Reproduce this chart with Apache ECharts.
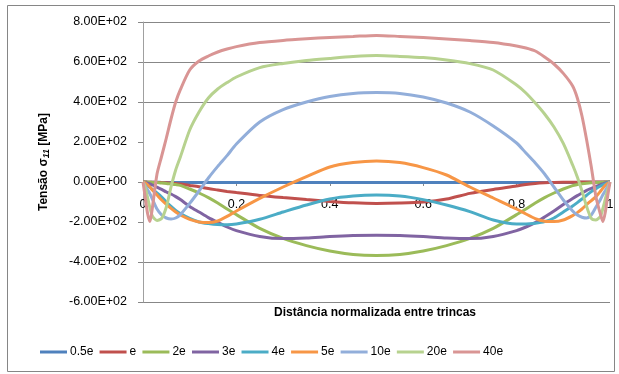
<!DOCTYPE html>
<html>
<head>
<meta charset="utf-8">
<script src="https://cdn.jsdelivr.net/npm/echarts@6/dist/echarts.min.js"></script>
<style>html,body{margin:0;padding:0;background:#fff;}#c{width:619px;height:374px;}</style>
</head>
<body>
<div id="c"></div>
<script>
const xs = [0,0.005,0.01,0.015,0.02,0.03,0.04,0.05,0.06,0.07,0.08,0.1,0.12,0.14,0.16,0.18,0.2,0.25,0.3,0.35,0.4,0.45,0.5,
            0.55,0.6,0.65,0.7,0.75,0.8,0.82,0.84,0.86,0.88,0.9,0.92,0.93,0.94,0.95,0.96,0.97,0.98,0.985,0.99,0.995,1];
const seriesNames = ['0.5e','e','2e','3e','4e','5e','10e','20e','40e'];
const s05e = [0,0,-1,-1,-1,-1,-2,-2,-2,-2,-2,-2,-2,-2,-2,-2,-2,-2,-2,-2,-2,-2,-2,
              -2,-2,-2,-2,-2,-2,-2,-2,-2,-2,-2,-2,-2,-1,-1,-1,-1,-1,-1,0,0,0];
const s1e = [0,0,-1,-1,-1,-2,-3,-4,-6,-8,-10,-17,-24,-33,-40,-47,-53,-67,-78,-88,-97,-104,-107,
             -105,-100,-85,-57,-37,-20,-12,-7,-4,-2,-1,-1,-1,0,0,0,0,0,0,0,0,0];
const s2e = [0,0,-1,-1,-2,-3,-5,-7,-10,-13,-17,-35,-55,-78,-105,-135,-163,-232,-282,-318,-345,-362,-367,
             -362,-345,-318,-282,-232,-163,-135,-105,-78,-55,-35,-18,-13,-9,-6,-4,-3,-2,-1,-1,0,0];
const s3e = [0,-2,-6,-10,-15,-26,-37,-50,-60,-73,-88,-122,-150,-178,-202,-225,-243,-272,-283,-280,-273,-268,-266,
             -268,-273,-280,-283,-272,-243,-225,-203,-175,-145,-112,-82,-68,-55,-42,-32,-22,-13,-9,-5,-2,0];
const s4e = [0,-8,-18,-27,-37,-55,-75,-100,-122,-142,-158,-182,-200,-208,-213,-214,-210,-186,-150,-115,-85,-70,-65,
             -70,-88,-115,-148,-190,-210,-210,-206,-198,-180,-150,-120,-103,-85,-66,-48,-33,-20,-14,-9,-4,0];
const s5e = [0,-5,-15,-25,-40,-65,-90,-112,-132,-150,-165,-187,-200,-203,-195,-172,-145,-82,-25,27,75,97,105,
             97,72,35,-25,-80,-135,-160,-183,-196,-198,-190,-168,-153,-135,-113,-93,-73,-45,-30,-17,-7,0];
const s10e = [0,-20,-40,-60,-85,-135,-165,-180,-185,-180,-163,-107,-45,20,78,132,190,300,362,400,428,443,447,
              443,425,395,350,280,195,145,95,40,-25,-90,-145,-165,-176,-180,-165,-125,-85,-63,-43,-22,0];
const s20e = [0,-30,-80,-130,-170,-192,-182,-125,-25,60,125,260,350,420,465,497,525,572,593,608,618,627,632,
              628,622,610,592,560,485,445,395,340,275,193,85,25,-45,-123,-182,-190,-170,-130,-85,-40,0];
const s40e = [0,-80,-160,-198,-130,40,130,220,315,400,462,560,605,630,650,665,677,697,708,716,723,728,733,
              728,722,715,707,697,680,670,655,625,590,543,480,420,330,210,75,-75,-165,-198,-150,-70,0];
const xTicks = [0,0.2,0.4,0.6,0.8,1];
const yTicks = [-600,-400,-200,0,200,400,600,800];

const allValues = [s05e,s1e,s2e,s3e,s4e,s5e,s10e,s20e,s40e];
const colors = ['#4F81BD','#C0504D','#9BBB59','#8064A2','#4BACC6','#F79646','#92AEDA','#B7D28F','#D99594'];
const FONT = 'Liberation Sans, Arial, sans-serif';

function fmt(v){
  if (v === 0) return '0.00E+00';
  const e = Math.floor(Math.log10(Math.abs(v)) + 1e-9);
  const m = v / Math.pow(10, e);
  return m.toFixed(2) + 'E' + (e < 0 ? '-' : '+') + String(Math.abs(e)).padStart(2, '0');
}

const chart = echarts.init(document.getElementById('c'), null, {renderer:'canvas'});
const series = seriesNames.map((n, i) => ({
  name: n,
  type: 'line',
  data: xs.map((x, j) => [x, allValues[i][j]]),
  showSymbol: false,
  symbol: 'none',
  smooth: 0.25,
  lineStyle: {width: 3, color: colors[i]},
  itemStyle: {color: colors[i]},
  z: 2 + i
}));
const gridColors = yTicks.map(v => (v === 200 || v === -200 || v === 0) ? 'rgba(0,0,0,0)' : '#878787');

chart.setOption({
  animation: false,
  backgroundColor: '#fff',
  textStyle: {fontFamily: FONT},
  grid: {left: 143, right: 9, top: 22, bottom: 72, containLabel: false},
  xAxis: {
    type: 'value', min: 0, max: 1, interval: 0.2,
    position: 'bottom', offset: -120,
    axisLine: {onZero: false, lineStyle: {color: '#888', width: 1}},
    axisTick: {show: true, length: 4, lineStyle: {color: '#888'}},
    axisLabel: {margin: 16, fontSize: 12.5, color: '#000', fontFamily: FONT,
      formatter: v => String(+v.toFixed(1))},
    splitLine: {show: false}
  },
  yAxis: {
    type: 'value', min: -600, max: 800, interval: 200,
    name: '{b|Tensão σ}{s|11}{b| [MPa]}',
    nameLocation: 'middle', nameGap: 92, nameRotate: 90,
    nameTextStyle: {
      rich: {
        b: {fontSize: 12, fontWeight: 'bold', color: '#000', fontFamily: FONT},
        s: {fontSize: 9, fontWeight: 'bold', fontStyle: 'italic', color: '#000', fontFamily: FONT, padding: [5,0,0,0]}
      }
    },
    axisLine: {show: true, lineStyle: {color: '#a0a0a0', width: 1}},
    axisTick: {show: true, length: 5, lineStyle: {color: '#888'}},
    axisLabel: {margin: 16, fontSize: 12.5, color: '#000', fontFamily: FONT, formatter: fmt},
    splitLine: {show: true, lineStyle: {color: gridColors, width: 1}}
  },
  legend: {
    data: seriesNames,
    left: 40, top: 346, padding: 0,
    icon: 'rect', itemWidth: 27, itemHeight: 3, itemGap: 6.2,
    textStyle: {fontSize: 12, color: '#000', fontFamily: FONT, padding: [0,0,0,-2]}
  },
  graphic: [
    {type: 'rect', shape: {x: 7.5, y: 5.5, width: 607, height: 366},
     style: {fill: 'none', stroke: '#868686', lineWidth: 1}, silent: true, z: -1},
    {type: 'text', x: 375, y: 313,
     style: {text: 'Distância normalizada entre trincas', font: 'bold 12px ' + FONT,
       fill: '#000', textAlign: 'center', textVerticalAlign: 'middle'}}
  ],
  series: series
});
</script>
</body>
</html>
